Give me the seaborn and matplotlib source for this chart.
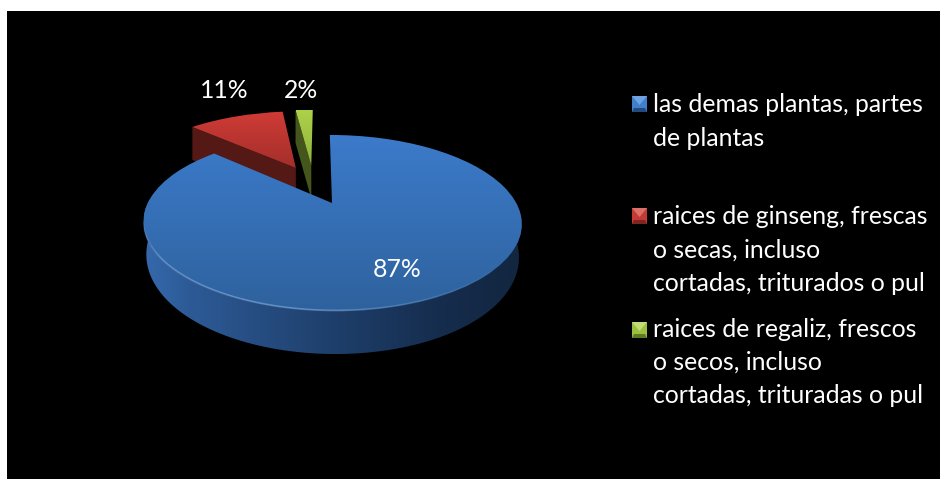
import numpy as np
import matplotlib
matplotlib.use('Agg')
import matplotlib.pyplot as plt
import seaborn as sns
from matplotlib.collections import LineCollection
from matplotlib.colors import LinearSegmentedColormap, to_rgb
from matplotlib.patches import Polygon
from matplotlib.transforms import Transform

labels = ['las demas plantas, partes\nde plantas',
          'raices de ginseng, frescas\no secas, incluso\ncortadas, triturados o pul',
          'raices de regaliz, frescos\no secos, incluso\ncortadas, trituradas o pul']
values = [87, 11, 2]

palette = sns.color_palette(['#3a76c4', '#c0392f', '#9bc03f'])
# top of face, bottom of face
face_cols = [('#3c7bcb', '#2e629d'), ('#d03b36', '#a32f2a'), ('#aed14a', '#8fb33c')]
wall_cols = ['#1e3f6b', '#541915', '#44561b']
# where each slice got pulled to, in pie units
offsets = [(0, 0), (-0.21, 0.463), (-0.118, 0.50)]
pct_pos = [(397, 270), (224, 91), (301, 91)]
legend_y = [121.5, 250, 362.5]
swatch_y = [104, 216, 330]

sns.set_theme(style='white')
plt.rcParams['font.family'] = ['Lato', 'DejaVu Sans']

# perspective of the tilted pie, apex of the pie at (331, 203)
CX, CY = 332.0, 203.0


def project(x, y):
    den = 1 + 0.227 * y
    py = 83.5 * y / den
    return CX + 184.2 * x / den - 0.032 * py, CY - py


class Tilt(Transform):
    input_dims = 2
    output_dims = 2

    def transform_non_affine(self, values):
        values = np.asarray(values)
        px, py = project(values[:, 0], values[:, 1])
        return np.column_stack([px, py])


def gradient(ax, patch, c1, c2, extent, horizontal=False):
    cmap = LinearSegmentedColormap.from_list('g', [c1, c2] if isinstance(c1, str) else c1)
    g = np.linspace(0, 1, 256)
    g = g.reshape(1, -1) if horizontal else g.reshape(-1, 1)
    im = ax.imshow(g, cmap=cmap, extent=extent, aspect='auto', origin='upper', zorder=patch.get_zorder())
    im.set_clip_path(patch)
    return im


fig = plt.figure(figsize=(9.4, 4.79), dpi=100, facecolor='white')
ax = fig.add_axes([7 / 940, 0, 933 / 940, 468 / 479])

wedges, _ = ax.pie(values, startangle=90, counterclock=False, radius=1, colors=palette)
tilt = Tilt() + ax.transData

# back slices first, blue goes over their walls
for i in [1, 2, 0]:
    w = wedges[i]
    w.set_center(offsets[i])
    w.set_transform(tilt)
    w.set_linewidth(0)
    z = 5 + [4, 0, 2][i]
    ox, oy = offsets[i]
    t = np.radians(np.linspace(w.theta1, w.theta2, 300))
    if i == 0:
        # round front wall
        rx, ry = project(ox + np.cos(t), oy + np.sin(t))
        depth = 30 + 13 * np.clip(-np.sin(t), 0, 1)
        low_x = 332.5 + (rx - 332.5) * 0.985
        wall = Polygon(np.column_stack([np.r_[rx, low_x[::-1]], np.r_[ry, (ry + depth)[::-1]]]),
                       closed=True, fc='none', ec='none', zorder=z)
        ax.add_patch(wall)
        gradient(ax, wall, [(0, '#3569ad'), (0.12, '#2d5a96'), (0.5, '#1e3f6b'),
                            (0.8, '#152c4c'), (1, '#12263f')], None, (144, 522, 354, 200), True)
    else:
        # flat side facing the viewer
        ax_, ay_ = project(ox, oy)
        ex, ey = project(ox + np.cos(t[-1]), oy + np.sin(t[-1]))
        d = 33
        wall = Polygon([(ex, ey), (ax_, ay_), (ax_, ay_ + d), (ex, ey + d)], closed=True,
                       fc=wall_cols[i], ec='none', zorder=z)
        ax.add_patch(wall)
    w.set_zorder(z + 1)
    xs, ys = project(ox + np.r_[0, np.cos(t)], oy + np.r_[0, np.sin(t)])
    gradient_ext = (xs.min(), xs.max(), ys.max(), ys.min())
    w.set_facecolor('none')
    gradient(ax, w, face_cols[i][0], face_cols[i][1], gradient_ext)

# light edge along the front of the blue disc
t = np.radians(np.linspace(190, 325, 200))
rx, ry = project(np.cos(t), np.sin(t))
pts = np.column_stack([rx, ry - 0.6])
segs = np.stack([pts[:-1], pts[1:]], axis=1)
fade = np.clip((np.radians(320) - t[:-1]) / np.radians(60), 0, 1) * np.clip((t[:-1] - np.radians(190)) / np.radians(25), 0, 1)
rim = np.tile(to_rgb('#86aee4'), (len(segs), 1))
ax.add_collection(LineCollection(segs, colors=np.column_stack([rim, fade * 0.6]), linewidths=1.3, zorder=10))

for v, (px, py) in zip(values, pct_pos):
    ax.text(px, py, f'{v}%', color='white', fontsize=17.8, ha='center', va='center', zorder=12)

# legend
swatches = [('#6ea3e2', '#3f7fce', '#234a7c'), ('#dd6f69', '#c33b35', '#7f2521'), ('#c3dc78', '#9bc03f', '#5f7a26')]
for lab, ly, sy, (hi, mid, lo) in zip(labels, legend_y, swatch_y, swatches):
    ax.text(653, ly, lab, color='white', fontsize=17.8, ha='left', va='center', linespacing=1.54, zorder=12)
    x0, x1, y0, y1 = 632, 647, sy - 8, sy + 8
    xm, ym = (x0 + x1) / 2, (y0 + y1) / 2
    ax.add_patch(Polygon([(x0, y0), (x1, y0), (x1, y1), (x0, y1)], fc=mid, ec='none', zorder=12))
    ax.add_patch(Polygon([(x0, y0), (x1, y0), (xm, ym + 1)], fc=hi, ec='none', zorder=13))
    ax.add_patch(Polygon([(x0, y1), (x1, y1), (x1 - 2, y1 - 4), (x0 + 2, y1 - 4)], fc=lo, ec='none', zorder=13))

ax.set_aspect('auto')
ax.set_xlim(7, 940)
ax.set_ylim(479, 11)
ax.set_frame_on(True)
ax.set_facecolor('black')
ax.set_xticks([])
ax.set_yticks([])
for s in ax.spines.values():
    s.set_visible(False)

fig.savefig('out.png', dpi=100, facecolor='white')
